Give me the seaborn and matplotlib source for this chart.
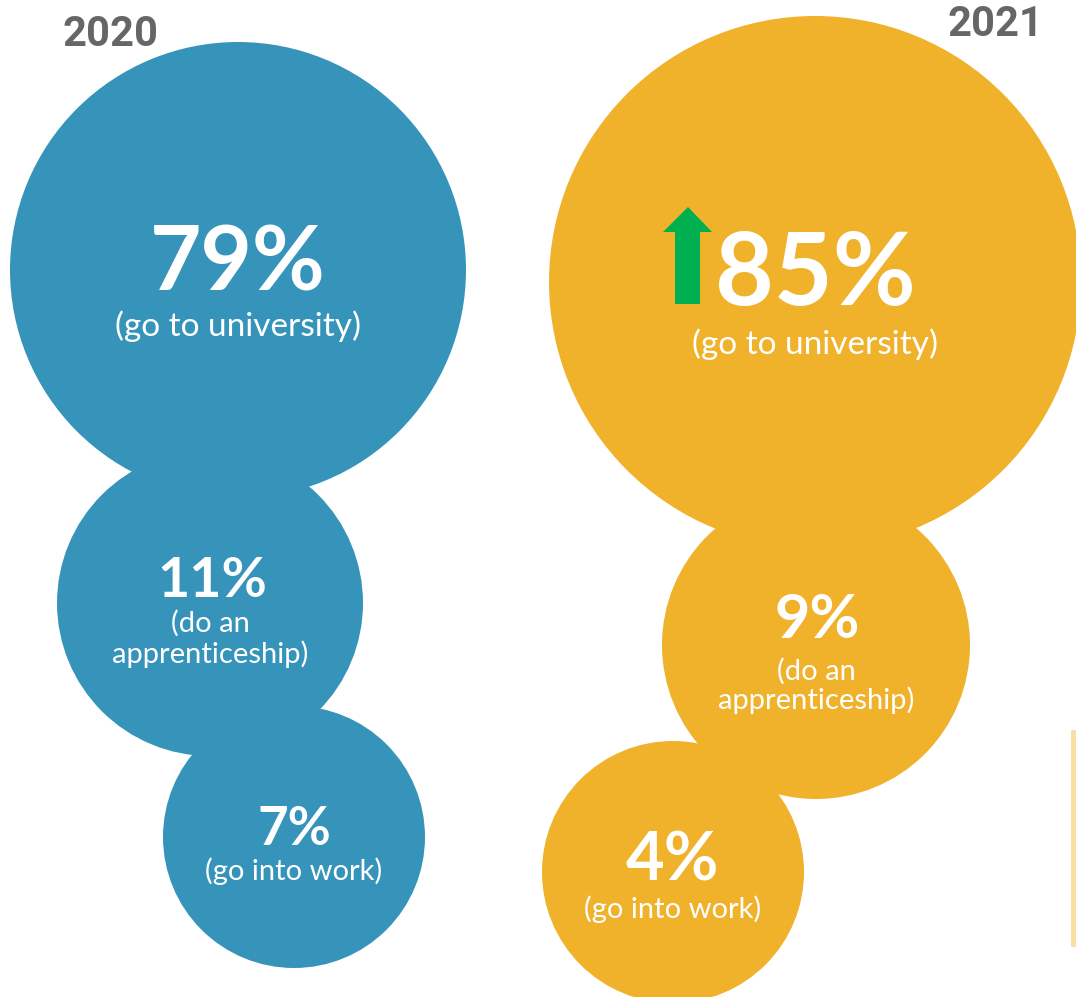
import matplotlib
matplotlib.use("Agg")
import matplotlib.pyplot as plt
from matplotlib.patches import Polygon
import seaborn as sns
import pandas as pd

# ---- data -------------------------------------------------------------
years = ["2020", "2021"]
destinations = ["go to university", "do an apprenticeship", "go into work"]
destination_labels = ["(go to university)", "(do an\napprenticeship)", "(go into work)"]
share_2020 = [79, 11, 7]
share_2021 = [85, 9, 4]

# ---- layout (canvas pixels, y grows downward) -----------------------------
W, H, DPI = 1076, 997, 100
bubble_x = {"2020": [238, 210, 294], "2021": [815, 816, 673]}
bubble_y = {"2020": [270, 603, 837], "2021": [282, 645, 872]}
bubble_r = {"2020": [228, 153, 131], "2021": [266, 154, 131]}
num_size = {"2020": [64, 40, 38], "2021": [73, 44, 48]}
num_base = {"2020": [290, 597, 845], "2021": [305, 638, 880]}
num_dx = {"2020": [0, 2, 0], "2021": [0, 1, -1]}
sub_size = {"2020": [24, 21, 21], "2021": [24, 21, 21]}
sub_base = {"2020": [336, 632, 880], "2021": [354, 680, 918]}
line_step = {"2020": 31, "2021": 29}
colors = {"2020": "#3694BB", "2021": "#F0B12B"}

rows = []
for yr, shares in zip(years, [share_2020, share_2021]):
    for i, (dest, val) in enumerate(zip(destinations, shares)):
        rows.append({"year": yr, "destination": dest, "share": val,
                     "x": bubble_x[yr][i], "y": bubble_y[yr][i],
                     "r": bubble_r[yr][i]})
df = pd.DataFrame(rows)

sns.set_theme(style="white")
plt.rcParams["font.family"] = ["Lato", "DejaVu Sans"]

fig = plt.figure(figsize=(W / DPI, H / DPI), dpi=DPI)
ax = fig.add_axes([0, 0, 1, 1])

# marker area in points^2 for a circle of radius r pixels
px2pt = 72 / DPI
sizes = [(2 * r * px2pt) ** 2 for r in df["r"]]
sns.scatterplot(data=df, x="x", y="y", hue="year", palette=colors,
                s=sizes, linewidth=0, legend=False, ax=ax, zorder=2)

ax.set_xlim(0, W)
ax.set_ylim(H, 0)
ax.set_axis_off()

# labels inside the bubbles
for yr, shares in zip(years, [share_2020, share_2021]):
    for i, val in enumerate(shares):
        cx = bubble_x[yr][i]
        ax.text(cx + num_dx[yr][i], num_base[yr][i], f"{val}%",
                color="white", fontsize=num_size[yr][i], fontweight="bold",
                ha="center", va="baseline", zorder=4)
        lines = destination_labels[i].split("\n")
        base = sub_base[yr][i]
        for k, line in enumerate(lines):
            ax.text(cx, base + k * line_step[yr], line, color="white",
                    fontsize=sub_size[yr][i], fontweight="normal",
                    ha="center", va="baseline", zorder=4)

# year headings
heading = dict(color="#666666", fontsize=30, fontweight="bold",
               family=["Roboto", "DejaVu Sans"], va="baseline", zorder=4)
ax.text(62, 46, years[0], ha="left", **heading)
ax.text(1043, 36, years[1], ha="right", **heading)

# green "increase" arrow next to the 2021 university share
arrow = Polygon([(688, 207), (712, 232), (700, 232), (700, 304),
                 (675, 304), (675, 232), (663, 232)],
                closed=True, facecolor="#00B050", edgecolor="none", zorder=5)
ax.add_patch(arrow)

# thin accent bar on the right edge
ax.fill_between([1071, 1076], 730, 947, color="#F9DEA5", linewidth=0, zorder=1)

fig.savefig("out.png", dpi=DPI, facecolor="white")
